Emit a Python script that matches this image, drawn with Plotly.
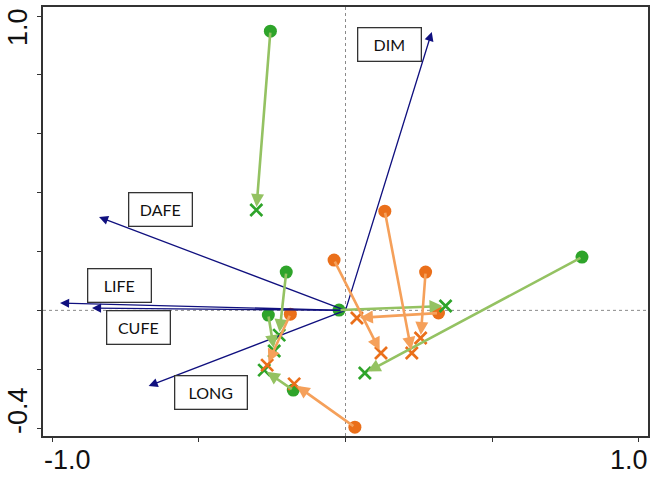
import plotly.graph_objects as go

# Environmental vectors (tips, from the origin)
vec_names = ["DIM", "DAFE", "LIFE", "CUFE", "LONG"]
vec_x = [0.294, -0.840, -0.973, -0.864, -0.671]
vec_y = [0.946, 0.317, 0.025, 0.008, -0.257]
# label box centres
lab_x = [0.151, -0.630, -0.769, -0.705, -0.457]
lab_y = [0.905, 0.344, 0.086, -0.057, -0.278]

# Green group trajectories: start (circle) -> end (cross)
g_start_x = [-0.256, -0.202, -0.263, -0.022, 0.806, -0.178]
g_start_y = [0.949, 0.130, -0.016, 0.001, 0.181, -0.271]
g_end_x = [-0.304, -0.226, -0.243, 0.341, 0.066, -0.277]
g_end_y = [0.341, -0.084, -0.138, 0.015, -0.213, -0.203]

# Orange group trajectories
o_start_x = [-0.039, 0.134, 0.273, 0.317, -0.188, 0.032]
o_start_y = [0.171, 0.337, 0.130, -0.009, -0.013, -0.397]
o_end_x = [0.121, 0.226, 0.256, 0.039, -0.267, -0.175]
o_end_y = [-0.145, -0.145, -0.094, -0.026, -0.186, -0.250]

x_ticks = [-1.0, -0.5, 0.0, 0.5, 1.0]
y_ticks = [-0.4, -0.2, 0.0, 0.2, 0.4, 0.6, 0.8, 1.0]
x_tick_labels = {-1.0: "-1.0", 1.0: "1.0"}
y_tick_labels = {-0.4: "-0.4", 1.0: "1.0"}

G_MARK = "#2ea42a"
G_LINE = "#94c262"
O_MARK = "#ea6f1a"
O_LINE = "#f5a05a"
NAVY = "#10107f"

fig = go.Figure()

annotations = []
# navy vectors
for x, y in zip(vec_x, vec_y):
    annotations.append(dict(x=x, y=y, ax=0, ay=0, xref="x", yref="y", axref="x", ayref="y",
                            text="", showarrow=True, arrowhead=2, arrowsize=1.4,
                            arrowwidth=1.3, arrowcolor=NAVY))
# trajectory arrows
for sx, sy, ex, ey in zip(g_start_x, g_start_y, g_end_x, g_end_y):
    annotations.append(dict(x=ex, y=ey, ax=sx, ay=sy, xref="x", yref="y", axref="x", ayref="y",
                            text="", showarrow=True, arrowhead=2, arrowsize=1.0,
                            arrowwidth=2.6, arrowcolor=G_LINE, standoff=3))
for sx, sy, ex, ey in zip(o_start_x, o_start_y, o_end_x, o_end_y):
    annotations.append(dict(x=ex, y=ey, ax=sx, ay=sy, xref="x", yref="y", axref="x", ayref="y",
                            text="", showarrow=True, arrowhead=2, arrowsize=1.0,
                            arrowwidth=2.6, arrowcolor=O_LINE, standoff=3))

fig.add_trace(go.Scatter(x=g_start_x, y=g_start_y, mode="markers",
                         marker=dict(symbol="circle", size=13, color=G_MARK), showlegend=False))
fig.add_trace(go.Scatter(x=o_start_x, y=o_start_y, mode="markers",
                         marker=dict(symbol="circle", size=13, color=O_MARK), showlegend=False))
fig.add_trace(go.Scatter(x=g_end_x, y=g_end_y, mode="markers",
                         marker=dict(symbol="x-thin", size=12, line=dict(color=G_MARK, width=2.7)),
                         showlegend=False))
fig.add_trace(go.Scatter(x=o_end_x, y=o_end_y, mode="markers",
                         marker=dict(symbol="x-thin", size=12, line=dict(color=O_MARK, width=2.7)),
                         showlegend=False))

# label boxes
for name, x, y in zip(vec_names, lab_x, lab_y):
    w = 71 if name == "LONG" else 62
    annotations.append(dict(x=x, y=y, xref="x", yref="y", text=name, showarrow=False,
                            font=dict(family="Lato", size=16, color="#111"),
                            width=w, height=32, borderpad=0, bordercolor="#333",
                            borderwidth=1.3, bgcolor="white"))

# tick labels
xshift = {-1.0: 15, 1.0: -10}
for v, t in x_tick_labels.items():
    annotations.append(dict(x=v, y=0, xref="x", yref="paper", text=t, showarrow=False,
                            xanchor="center", yanchor="middle", yshift=-24, xshift=xshift[v],
                            font=dict(family="Liberation Sans", size=27, color="#111")))
yshift = {-0.4: 17, 1.0: -11}
for v, t in y_tick_labels.items():
    annotations.append(dict(x=0, y=v, xref="paper", yref="y", text=t, showarrow=False,
                            textangle=-90, xanchor="center", yanchor="middle",
                            xshift=-25, yshift=yshift[v],
                            font=dict(family="Liberation Sans", size=27, color="#111")))

shapes = [
    dict(type="line", x0=0, x1=0, y0=0, y1=1, xref="x", yref="paper",
         line=dict(color="#8a8a8a", width=1, dash="dot"), layer="below"),
    dict(type="line", x0=0, x1=1, y0=0, y1=0, xref="paper", yref="y",
         line=dict(color="#8a8a8a", width=1, dash="dot"), layer="below"),
]

fig.update_layout(
    width=654, height=479,
    margin=dict(l=43, r=4, t=7, b=43),
    plot_bgcolor="white", paper_bgcolor="white",
    annotations=annotations, shapes=shapes,
    xaxis=dict(range=[-1.031, 1.031], showgrid=False, zeroline=False,
               showline=True, mirror=True, linecolor="#333", linewidth=1.5,
               ticks="outside", tickvals=x_ticks, ticklen=4, tickcolor="#333",
               showticklabels=False),
    yaxis=dict(range=[-0.427, 1.031], showgrid=False, zeroline=False,
               showline=True, mirror=True, linecolor="#333", linewidth=1.5,
               ticks="outside", tickvals=y_ticks, ticklen=4, tickcolor="#333",
               showticklabels=False),
)

fig.write_html("out.html")
